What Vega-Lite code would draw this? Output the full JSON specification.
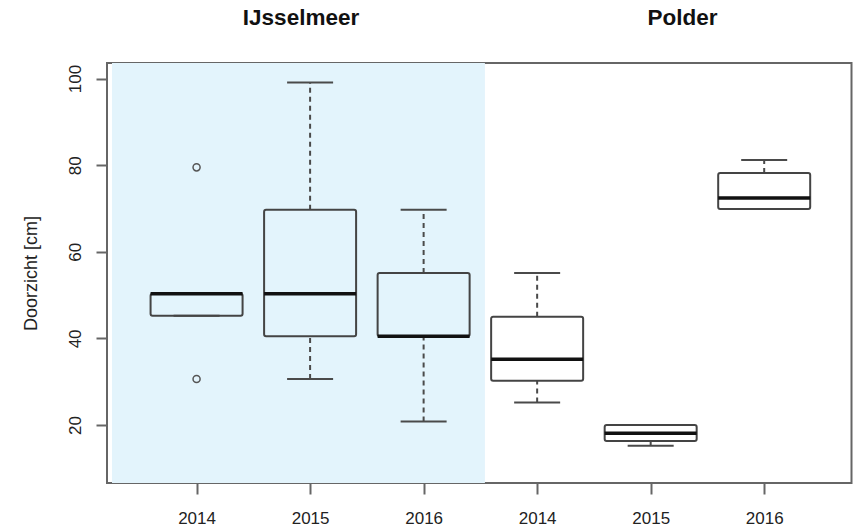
{
  "$schema": "https://vega.github.io/schema/vega-lite/v6.json",
  "width": 744.5,
  "height": 420,
  "autosize": {"type": "none"},
  "padding": {"left": 107, "top": 63, "right": 4.5, "bottom": 46},
  "background": "white",
  "config": {
    "view": {"stroke": "#666666", "strokeWidth": 2},
    "font": "Liberation Sans",
    "axis": {"grid": false, "domain": false, "tickColor": "#666666", "tickWidth": 2, "tickSize": 11, "labelColor": "#222222", "labelFontSize": 17, "titleColor": "#222222", "titleFontSize": 18, "titleFontWeight": "normal"}
  },
  "datasets": {
    "boxes": [
      {"pos": 1, "gebied": "IJsselmeer", "jaar": 2014, "laag": 45.2, "q1": 45.2, "mediaan": 50.3, "q3": 50.3, "hoog": 50.3},
      {"pos": 2, "gebied": "IJsselmeer", "jaar": 2015, "laag": 30.6, "q1": 40.5, "mediaan": 50.3, "q3": 69.7, "hoog": 99.1},
      {"pos": 3, "gebied": "IJsselmeer", "jaar": 2016, "laag": 20.8, "q1": 40.5, "mediaan": 40.5, "q3": 55.1, "hoog": 69.7},
      {"pos": 4, "gebied": "Polder", "jaar": 2014, "laag": 25.2, "q1": 30.2, "mediaan": 35.2, "q3": 45.0, "hoog": 55.1},
      {"pos": 5, "gebied": "Polder", "jaar": 2015, "laag": 15.2, "q1": 16.3, "mediaan": 18.1, "q3": 20.0, "hoog": 20.0},
      {"pos": 6, "gebied": "Polder", "jaar": 2016, "laag": 69.9, "q1": 69.9, "mediaan": 72.4, "q3": 78.2, "hoog": 81.2}
    ],
    "outliers": [
      {"pos": 1, "gebied": "IJsselmeer", "jaar": 2014, "waarde": 79.5},
      {"pos": 1, "gebied": "IJsselmeer", "jaar": 2014, "waarde": 30.6}
    ],
    "zones": [{"gebied": "IJsselmeer", "van": 0.255, "tot": 3.54}],
    "titels": [
      {"label": "IJsselmeer", "pos": 1.92, "hoogte": 114},
      {"label": "Polder", "pos": 5.28, "hoogte": 114}
    ]
  },
  "layer": [
    {
      "data": {"name": "zones"},
      "mark": {"type": "rect", "color": "#E3F4FC", "clip": true},
      "encoding": {
        "x": {"field": "van", "type": "quantitative", "title": null, "scale": {"domain": [0.255, 6.725], "nice": false, "zero": false}},
        "x2": {"field": "tot"}
      }
    },
    {
      "data": {"name": "boxes"},
      "mark": {"type": "rule", "strokeDash": [5, 4], "strokeWidth": 2, "color": "#4a4a4a"},
      "encoding": {
        "x": {"field": "pos", "type": "quantitative", "title": null},
        "y": {"field": "q3", "type": "quantitative", "title": "Doorzicht [cm]"},
        "y2": {"field": "hoog"}
      }
    },
    {
      "data": {"name": "boxes"},
      "mark": {"type": "rule", "strokeDash": [5, 4], "strokeWidth": 2, "color": "#4a4a4a"},
      "encoding": {
        "x": {"field": "pos", "type": "quantitative", "title": null},
        "y": {"field": "laag", "type": "quantitative", "title": "Doorzicht [cm]"},
        "y2": {"field": "q1"}
      }
    },
    {
      "data": {"name": "boxes"},
      "mark": {"type": "tick", "orient": "horizontal", "size": 46, "thickness": 2, "color": "#4a4a4a", "opacity": 1},
      "encoding": {
        "x": {"field": "pos", "type": "quantitative", "title": null},
        "y": {"field": "hoog", "type": "quantitative", "title": "Doorzicht [cm]"}
      }
    },
    {
      "data": {"name": "boxes"},
      "mark": {"type": "tick", "orient": "horizontal", "size": 46, "thickness": 2, "color": "#4a4a4a", "opacity": 1},
      "encoding": {
        "x": {"field": "pos", "type": "quantitative", "title": null},
        "y": {"field": "laag", "type": "quantitative", "title": "Doorzicht [cm]"}
      }
    },
    {
      "data": {"name": "boxes"},
      "mark": {"type": "bar", "width": 92, "filled": false, "stroke": "#444444", "strokeWidth": 2, "cornerRadius": 2},
      "encoding": {
        "x": {
          "field": "pos", "type": "quantitative", "title": null,
          "axis": {"values": [1, 2, 3, 4, 5, 6], "labelExpr": "datum.value == 1 || datum.value == 4 ? '2014' : (datum.value == 2 || datum.value == 5 ? '2015' : '2016')", "labelPadding": 16, "labelFlush": false}
        },
        "y": {
          "field": "q1", "type": "quantitative", "title": "Doorzicht [cm]",
          "scale": {"domain": [6.6, 103.6], "nice": false, "zero": false},
          "axis": {"values": [20, 40, 60, 80, 100], "labelAngle": -90, "labelAlign": "center", "labelBaseline": "bottom", "labelPadding": 12, "titlePadding": 26, "labelFlush": false}
        },
        "y2": {"field": "q3"}
      }
    },
    {
      "data": {"name": "boxes"},
      "mark": {"type": "tick", "orient": "horizontal", "size": 92, "thickness": 3.5, "color": "#111111", "opacity": 1},
      "encoding": {
        "x": {"field": "pos", "type": "quantitative", "title": null},
        "y": {"field": "mediaan", "type": "quantitative", "title": "Doorzicht [cm]"}
      }
    },
    {
      "data": {"name": "outliers"},
      "mark": {"type": "point", "shape": "circle", "filled": false, "size": 50, "stroke": "#555555", "strokeWidth": 1.5, "opacity": 1},
      "encoding": {
        "x": {"field": "pos", "type": "quantitative", "title": null},
        "y": {"field": "waarde", "type": "quantitative", "title": "Doorzicht [cm]"}
      }
    },
    {
      "data": {"name": "titels"},
      "mark": {"type": "text", "fontSize": 22.5, "fontWeight": "bold", "color": "#111111", "align": "center", "baseline": "middle"},
      "encoding": {
        "x": {"field": "pos", "type": "quantitative", "title": null},
        "y": {"field": "hoogte", "type": "quantitative", "title": "Doorzicht [cm]"},
        "text": {"field": "label"}
      }
    }
  ]
}
